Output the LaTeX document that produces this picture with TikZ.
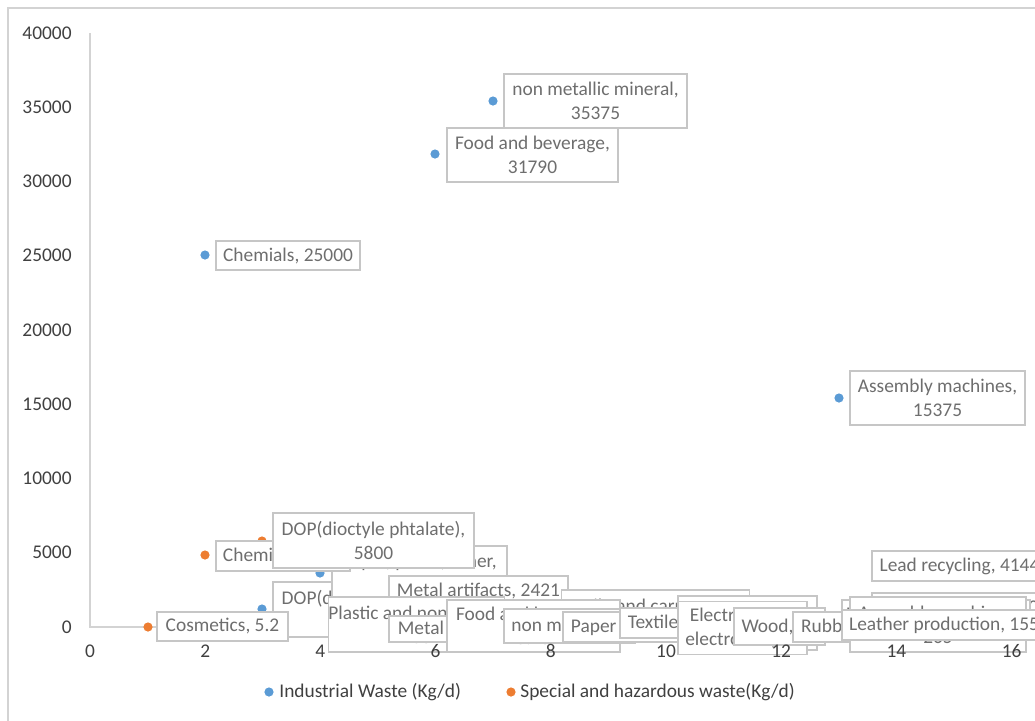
\documentclass[tikz,border=0pt]{standalone}
\usepackage{fontspec}
\setmainfont{Carlito}
\definecolor{indblue}{HTML}{5B9BD5}
\definecolor{hazorange}{HTML}{ED7D31}
\definecolor{lblgray}{HTML}{6E6E6E}
\definecolor{boxgray}{HTML}{C6C6C6}
\definecolor{axisgray}{HTML}{D3D3D3}
\definecolor{tickgray}{HTML}{404040}
\tikzset{
  lbl/.style={draw=boxgray, line width=0.6pt, fill=white, text=lblgray, align=center,
    inner sep=0pt, font=\fontsize{9.7}{12}\selectfont},
  sz/.style 2 args={minimum width=#1*0.5pt, minimum height=#2*0.5pt},
  ind/.style={circle, fill=indblue, inner sep=0pt, minimum size=4.6pt},
  haz/.style={circle, fill=hazorange, inner sep=0pt, minimum size=4.6pt},
  tick/.style={text=tickgray, inner sep=0pt, font=\fontsize{9.7}{12}\selectfont},
}
\begin{document}
\begin{tikzpicture}[x=0.5pt,y=-0.5pt]
  \useasboundingbox (0,0) rectangle (1035,720);
  \clip (0,0) rectangle (1035,720);
  \draw[axisgray, line width=0.6pt] (8,8) rectangle (1050,730);
  \draw[axisgray, line width=0.7pt] (90,33) -- (90,627) -- (1050,627);
  \foreach \v [count=\i from 0] in {0,5000,10000,15000,20000,25000,30000,35000,40000}
    \node[tick, anchor=east] (y\i) at (72,627-74.25*\i) {\v};

  \node[ind] (pChemB) at (205,255) {};
  \node[ind] (pFoodB) at (435,154) {};
  \node[ind] (pNonmetB) at (493,101) {};
  \node[ind] (pAssemB) at (839,398) {};
  \node[ind] (pPaperB) at (320,573) {};
  \node[ind] (pDopB) at (262,609) {};
  \node[haz] (pChemH) at (205,555) {};
  \node[haz] (pDopH) at (262,541) {};
  \node[haz] (pCosmH) at (148,627) {};

  \node[lbl, sz={144}{29}] (chemB) at (288,255.5) {Chemials, 25000};
  \node[lbl, sz={183}{54}] (nonmetB) at (595.5,101) {non metallic mineral,\\35375};
  \node[lbl, sz={171}{54}] (foodB) at (532.5,155) {Food and beverage,\\31790};
  \node[lbl, sz={175}{54}] (assemB) at (937.5,398) {Assembly machines,\\15375};

  \node[lbl, sz={201}{55}] (dopB) at (373.5,609.5) {DOP(dioctyle phtalate),\\1212};
  \node[lbl, sz={175}{54}] (paperB) at (419.5,573) {Paper, prints, other,\\3636};
  \node[lbl, sz={134}{30}] (chemH) at (283,556) {Chemials, 4850};
  \node[lbl, sz={201}{55}] (dopH) at (373.5,540.5) {DOP(dioctyle phtalate),\\5800};
  \node[lbl, sz={131}{29}] (cosmH) at (222.5,626.5) {Cosmetics, 5.2};
  \node[lbl, sz={179}{30}] (metalartB) at (478.5,591) {Metal artifacts, 2421};
  \node[lbl, sz={185}{34}] (carB) at (655.5,607) {Textile and carpet, 1020};
  \node[lbl, sz={167}{55}] (plasticB) at (416.5,624.5) {Plastic and nonwoven,\\206};
  \node[lbl, sz={166}{26}] (metalH) at (472,629) {Metal artifacts, 0.4};
  \node[lbl, sz={173}{52}] (foodH) at (533.5,626) {Food and beverage,\\5.45};
  \node[lbl, sz={131}{34}] (nonmetH) at (569.5,626) {non metallic, 8};
  \node[lbl, sz={180}{30}] (paperH) at (653,627) {Paper and board, 2.5};
  \node[lbl, sz={100}{30}] (textileH) at (670,623) {Textile, 3.1};
  \node[lbl, sz={139}{54}] (elecB) at (747.5,623) {Electrical and\\electronics, 95};
  \node[lbl, sz={129}{53}] (elecH) at (742.5,628) {Electrical and\\electronics, 12};
  \node[lbl, sz={91}{37}] (woodH) at (779.5,626.5) {Wood, 10};
  \node[lbl, sz={106}{30}] (rubberH) at (846,627) {Rubber, 0.4};
  \node[lbl, sz={173}{30}] (leadB) at (958.5,608) {Lead recycling, 1200};
  \node[lbl, sz={188}{30}] (leatherB) at (936,615) {Leather production, 30};
  \node[lbl, sz={176}{55}] (assemH) at (938,624.5) {Assembly machines,\\265};
  \node[lbl, sz={214}{30}] (leatherH) at (949,625) {Leather production, 1550};
  \node[lbl, sz={175}{30}] (leadH) at (959.5,566) {Lead recycling, 4144};

  \foreach \v [count=\k from 0] in {0,2,4,6,8,10,12,14,16}
    \node[tick] (x\k) at (90+115.2*\k,651) {\v};

  \node[ind] (legB) at (269,692) {};
  \node[tick, anchor=west] (legBtxt) at (279,692) {Industrial Waste (Kg/d)};
  \node[haz] (legH) at (511,692) {};
  \node[tick, anchor=west] (legHtxt) at (520,692) {Special and hazardous waste(Kg/d)};
\end{tikzpicture}
\end{document}
